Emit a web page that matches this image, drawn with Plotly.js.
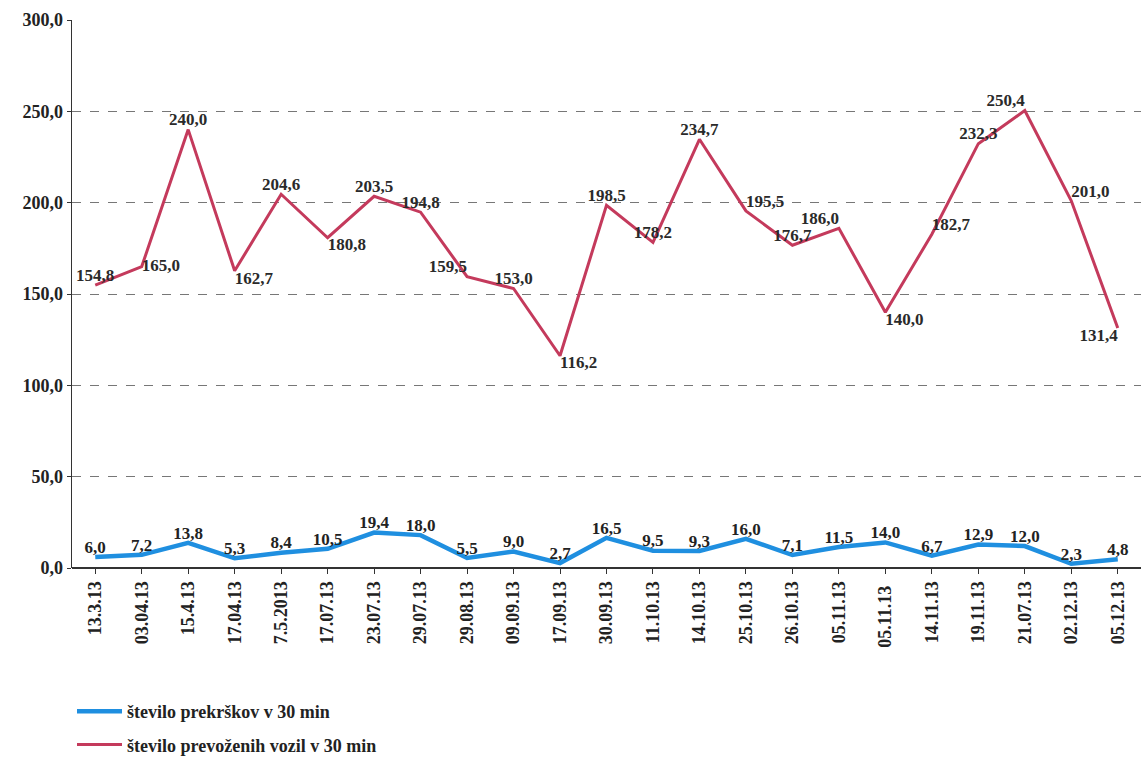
<!DOCTYPE html>
<html>
<head>
<meta charset="utf-8">
<script src="https://cdn.plot.ly/plotly-3.0.1.min.js"></script>
<style>html,body{margin:0;padding:0;background:#fff;}#chart{width:1145px;height:762px;}</style>
</head>
<body>
<div id="chart"></div>
<script>
const categories = ["13.3.13","03.04.13","15.4.13","17.04.13","7.5.2013","17.07.13","23.07.13","29.07.13","29.08.13","09.09.13","17.09.13","30.09.13","11.10.13","14.10.13","25.10.13","26.10.13","05.11.13","05.11.13 ","14.11.13","19.11.13","21.07.13","02.12.13","05.12.13"];
const prekrski = [6.0,7.2,13.8,5.3,8.4,10.5,19.4,18.0,5.5,9.0,2.7,16.5,9.5,9.3,16.0,7.1,11.5,14.0,6.7,12.9,12.0,2.3,4.8];
const vozila = [154.8,165.0,240.0,162.7,204.6,180.8,203.5,194.8,159.5,153.0,116.2,198.5,178.2,234.7,195.5,176.7,186.0,140.0,182.7,232.3,250.4,201.0,131.4];
const seriesNames = ["število prekrškov v 30 min","število prevoženih vozil v 30 min"];
const redPos = ["top center","middle right","top center","bottom right","top center","bottom right","top center","top center","top left","top center","bottom right","top center","top center","top center","top right","top center","top left","bottom right","top right","top center","top left","top right","bottom left"];

const fmt = v => v.toFixed(1).replace('.', ',');
const serif = "Liberation Serif, DejaVu Serif, serif";

const traces = [
  {
    x: categories, y: prekrski, type: 'scatter', mode: 'lines+text',
    name: seriesNames[0], legendgroup: 'a',
    line: {color: '#1f8fe0', width: 4.5},
    text: prekrski.map(fmt), textposition: 'top center',
    textfont: {family: serif, size: 17, color: '#222', weight: 'bold'},
    cliponaxis: false
  },
  {
    x: categories, y: vozila, type: 'scatter', mode: 'lines+text',
    name: seriesNames[1], legendgroup: 'b',
    line: {color: '#c43a5c', width: 3},
    text: vozila.map(fmt), textposition: redPos,
    textfont: {family: serif, size: 17, color: '#2a2a2a', weight: 'bold'},
    cliponaxis: false
  }
];

const layout = {
  width: 1145, height: 762,
  margin: {l: 72, r: 4, t: 20, b: 194, autoexpand: false},
  paper_bgcolor: '#fff', plot_bgcolor: '#fff',
  separators: ',.',
  showlegend: true,
  legend: {
    x: 0.0, xanchor: 'left', y: -0.228, yanchor: 'top',
    orientation: 'v', tracegroupgap: 7, itemwidth: 45,
    font: {family: serif, size: 18, color: '#222', weight: 'bold'},
    bgcolor: 'rgba(0,0,0,0)'
  },
  xaxis: {
    type: 'category', range: [-0.5, 22.5], automargin: false,
    tickangle: -90,
    tickfont: {family: serif, size: 18, color: '#222', weight: 'bold'},
    showgrid: false, showline: false, zeroline: false,
    ticks: 'outside', ticklen: 5, tickcolor: '#333',
    fixedrange: true
  },
  yaxis: {
    range: [0, 300], dtick: 50, tickformat: '.1f', automargin: false,
    tickfont: {family: serif, size: 18, color: '#222', weight: 'bold'},
    showgrid: true, gridcolor: '#777', griddash: 'dash', gridwidth: 1,
    zeroline: true, zerolinecolor: '#333', zerolinewidth: 1.5,
    showline: true, linecolor: '#333', linewidth: 1.5,
    ticks: 'outside', ticklen: 4, tickcolor: '#333',
    fixedrange: true
  }
};

Plotly.newPlot('chart', traces, layout, {displayModeBar: false, staticPlot: true});
</script>
</body>
</html>
